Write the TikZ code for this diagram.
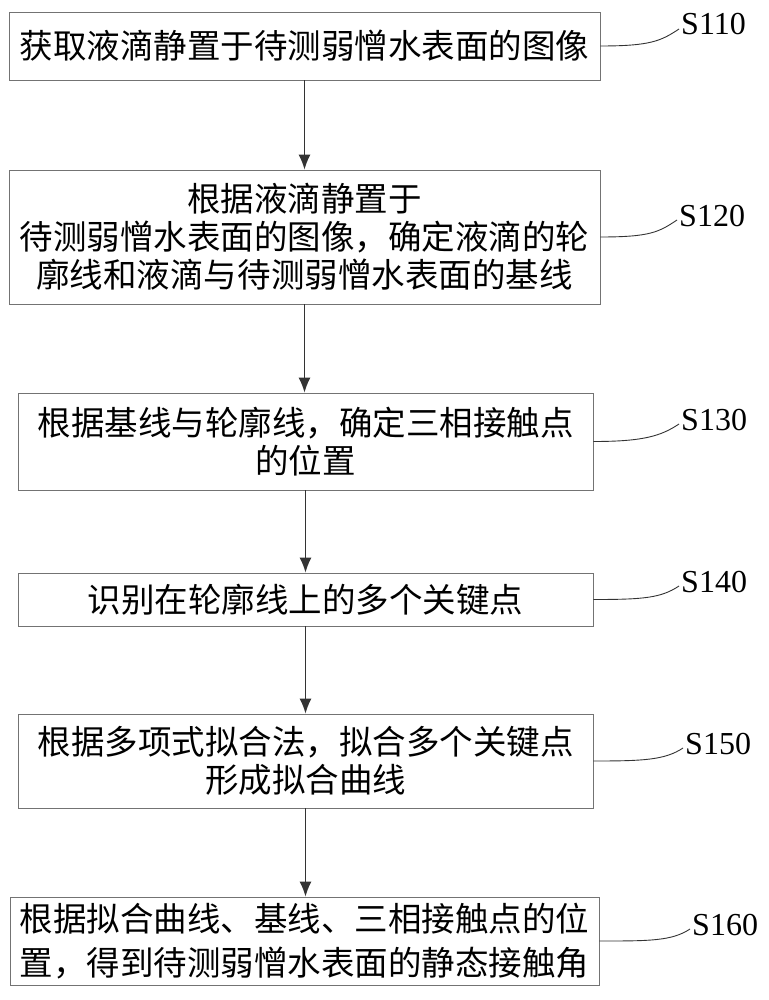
\documentclass[tikz,border=0pt]{standalone}
\usepackage{fontspec}
\setmainfont{Liberation Serif}
\newfontfamily\cjk{Noto Sans CJK SC}
\usetikzlibrary{arrows.meta}

\begin{document}
\begin{tikzpicture}[x=1pt,y=-1pt,
  stepbox/.style={draw=black!55,line width=0.8pt,inner sep=0pt,align=center,text=black,
    font=\cjk\fontsize{33.5}{38}\selectfont},
  steplabel/.style={inner sep=0pt,anchor=base west,font=\fontsize{32}{32}\selectfont},
  flow/.style={draw=black!80,line width=1.3pt,-{Latex[length=15pt,width=12pt]}},
  tag/.style={draw=black!80,line width=0.9pt}]
  \useasboundingbox (0,0) rectangle (768,1000);
  \node[stepbox,minimum width=591pt,minimum height=68pt] (b1) at (304.5,46) {获取液滴静置于待测弱憎水表面的图像};
  \node[stepbox,minimum width=591pt,minimum height=134pt] (b2) at (304.5,237) {根据液滴静置于\\待测弱憎水表面的图像，确定液滴的轮\\廓线和液滴与待测弱憎水表面的基线};
  \node[stepbox,minimum width=575pt,minimum height=97pt] (b3) at (305.5,441.5) {根据基线与轮廓线，确定三相接触点\\的位置};
  \node[stepbox,minimum width=575pt,minimum height=53pt] (b4) at (305.5,599.5) {识别在轮廓线上的多个关键点};
  \node[stepbox,minimum width=575pt,minimum height=94pt] (b5) at (305.5,761) {根据多项式拟合法，拟合多个关键点\\形成拟合曲线};
  \node[stepbox,minimum width=589pt,minimum height=88pt] (b6) at (304.5,941) {根据拟合曲线、基线、三相接触点的位\\[6pt]置，得到待测弱憎水表面的静态接触角};
  % step numbers
  \node[steplabel] (l1) at (681,35) {S110};
  \node[steplabel] (l2) at (679,226) {S120};
  \node[steplabel] (l3) at (681,430) {S130};
  \node[steplabel] (l4) at (681,592) {S140};
  \node[steplabel] (l5) at (685,754) {S150};
  \node[steplabel] (l6) at (692,935) {S160};
  \draw[flow] (b1.south) -- (b1.south |- b2.north);
  \draw[flow] (b2.south) -- (b2.south |- b3.north);
  \draw[flow] (b3.south) -- (b3.south |- b4.north);
  \draw[flow] (b4.south) -- (b4.south |- b5.north);
  \draw[flow] (b5.south) -- (b5.south |- b6.north);
  \draw[tag] (b1.east) .. controls +(50,0) and +(-18,12) .. ([shift={(-2,-6)}]l1.base west);
  \draw[tag] (b2.east) .. controls +(50,0) and +(-18,12) .. ([shift={(-2,-6)}]l2.base west);
  \draw[tag] (b3.east) .. controls +(50,0) and +(-18,12) .. ([shift={(-2,-6)}]l3.base west);
  \draw[tag] (b4.east) .. controls +(50,0) and +(-18,12) .. ([shift={(-2,-6)}]l4.base west);
  \draw[tag] (b5.east) .. controls +(50,0) and +(-18,12) .. ([shift={(-2,-6)}]l5.base west);
  \draw[tag] (b6.east) .. controls +(50,0) and +(-18,12) .. ([shift={(-2,-6)}]l6.base west);
\end{tikzpicture}
\end{document}
